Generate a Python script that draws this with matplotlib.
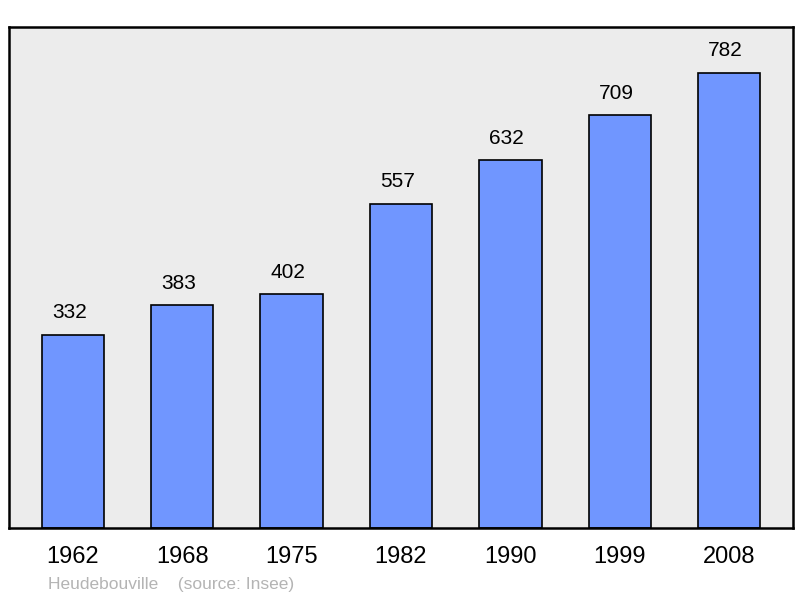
import matplotlib.pyplot as plt

# population de Heudebouville (source: Insee)
annees = ["1962", "1968", "1975", "1982", "1990", "1999", "2008"]
population = [332, 383, 402, 557, 632, 709, 782]

plt.rcParams['font.family'] = ['Liberation Sans', 'DejaVu Sans']

fig = plt.figure(figsize=(8, 5.98), dpi=100)
ax = fig.add_axes([9 / 800, 70 / 598, 784 / 800, 501 / 598])
ax.set_facecolor('#ececec')

x = range(len(annees))
ax.bar(x, population, width=0.57, color='#7096ff', edgecolor='black', linewidth=1.2, zorder=2)

# valeurs au-dessus des barres (un peu décalées à gauche comme l'original)
for xi, val in zip(x, population):
    ax.annotate(str(val), (xi, val), xytext=(-2.5, 9), textcoords='offset points',
                ha='center', va='bottom', fontsize=15)

ax.set_xlim(-0.585, 6.585)
ax.set_ylim(0, 861)
ax.set_xticks(list(x))
ax.set_xticklabels(annees, fontsize=17)
ax.tick_params(axis='x', length=0, pad=13)
ax.set_yticks([])
for s in ax.spines.values():
    s.set_linewidth(1.8)
    s.set_color('black')

fig.text(48 / 800, 1 - 584 / 598, "Heudebouville    (source: Insee)", color='#b4b4b4',
         fontsize=12.5, va='center', ha='left')

fig.savefig("out.png", dpi=100)
